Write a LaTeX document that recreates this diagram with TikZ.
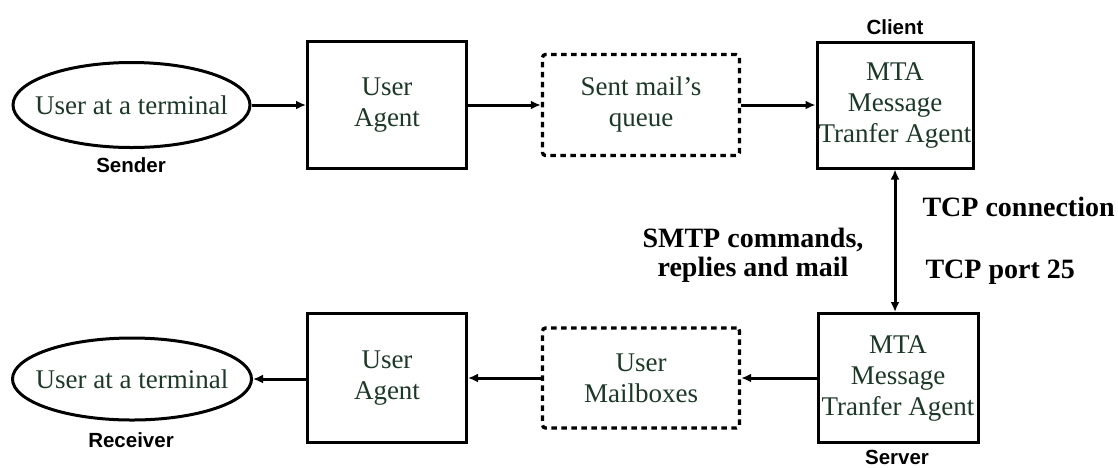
\documentclass[tikz,border=0pt]{standalone}
\usepackage{fontspec}
\setmainfont{Liberation Serif}
\newfontfamily\labelsans{Liberation Sans}
\usetikzlibrary{arrows.meta,shapes.geometric}
\definecolor{boxgreen}{RGB}{28,56,38}
\tikzset{
  boxtext/.style={font=\fontsize{27}{31}\selectfont, text=boxgreen, align=center},
  solidbox/.style={draw, line width=3pt, rectangle, boxtext, inner sep=0pt},
  dashbox/.style={draw, line width=3.4pt, rectangle, rounded corners=3pt,
                  dash pattern=on 5.5pt off 4.5pt, boxtext, inner sep=0pt},
  userell/.style={draw, line width=3pt, ellipse, boxtext, inner xsep=-25pt, inner ysep=0pt},
  rolelabel/.style={font=\labelsans\bfseries\fontsize{20.5}{23}\selectfont},
  boldlabel/.style={font=\bfseries\fontsize{28}{29}\selectfont, align=center},
  flow/.style={line width=3pt, -{Latex[length=10pt,width=9pt]}},
  twoway/.style={line width=3pt, {Latex[length=10pt,width=9pt]}-{Latex[length=10pt,width=9pt]}}
}
\begin{document}
\begin{tikzpicture}[x=1pt,y=-1pt]
\useasboundingbox (0,0) rectangle (1118,467);

% sending side
\node[userell, minimum width=237pt, minimum height=85pt] (sendUser) at (131.5,105) {User at a terminal};
\node[rolelabel] (sendLbl) at (131,165) {Sender};
\node[solidbox, minimum width=159pt, minimum height=127pt] (sendUA) at (387,105) {User\\Agent};
\node[dashbox, minimum width=197pt, minimum height=101pt] (queue) at (641,105) {Sent mail's\\queue};
\node[solidbox, minimum width=156pt, minimum height=126pt] (clientMTA) at (895,105) {MTA\\Message\\Tranfer Agent};
\node[rolelabel] (clientLbl) at (895,27) {Client};

% receiving side
\node[solidbox, minimum width=160pt, minimum height=129pt] (serverMTA) at (898,378) {MTA\\Message\\Tranfer Agent};
\node[rolelabel] (serverLbl) at (897,457) {Server};
\node[dashbox, minimum width=197pt, minimum height=100pt] (mailboxes) at (641,378) {User\\Mailboxes};
\node[solidbox, minimum width=159pt, minimum height=129pt] (recvUA) at (387,378) {User\\Agent};
\node[userell, minimum width=239pt, minimum height=82pt] (recvUser) at (132,379) {User at a terminal};
\node[rolelabel] (recvLbl) at (131,440) {Receiver};

% connection labels
\node[boldlabel, anchor=west] (tcpConn) at (919,207) {TCP connection};
\node[boldlabel, anchor=west] (tcpPort) at (922,272) {TCP port 25};
\node[boldlabel] (smtp) at (753,255) {SMTP commands,\\replies and mail};

% message flow
\draw[flow] (sendUser) -- (sendUA);
\draw[flow] (sendUA) -- (queue);
\draw[flow] (queue) -- (clientMTA);
\draw[twoway] (clientMTA.south) -- (clientMTA.south |- serverMTA.north);
\draw[flow] (serverMTA.west |- mailboxes.east) -- (mailboxes.east);
\draw[flow] (mailboxes) -- (recvUA);
\draw[flow] (recvUA.west |- recvUser.east) -- (recvUser.east);
\end{tikzpicture}
\end{document}
